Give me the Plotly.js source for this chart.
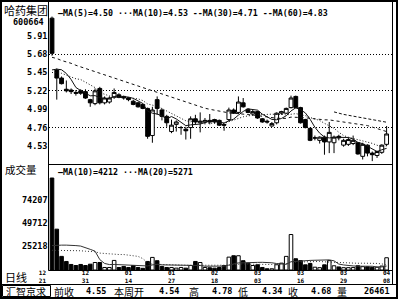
<!DOCTYPE html>
<html>
<head>
<meta charset="utf-8">
<script src="https://cdn.plot.ly/plotly-3.0.1.min.js"></script>
<style>
html,body{margin:0;padding:0;background:#fff;overflow:hidden;}
#chart{width:400px;height:300px;}
</style>
</head>
<body>
<div id="chart"></div>
<script>
// ---- data ----
const stockName = '哈药集团';
const stockCode = '600664';
const opens = [6.13,5.48,5.38,5.24,5.23,5.20,5.22,5.21,5.11,5.06,
5.25,5.07,5.08,5.14,5.17,5.15,5.13,5.09,5.07,5.05,
5.00,4.66,5.11,4.98,4.90,4.71,4.80,4.76,4.74,4.76,
4.87,4.82,4.83,4.85,4.86,4.85,4.80,4.86,4.98,4.95,
5.07,4.99,4.93,4.96,4.87,4.84,4.78,4.82,4.94,4.94,
5.01,5.15,5.01,4.86,4.75,4.63,4.60,4.64,4.58,4.57,
4.65,4.54,4.55,4.56,4.57,4.40,4.54,4.44,4.41,4.45,4.55];
const highs = [6.15,5.50,5.40,5.35,5.25,5.23,5.24,5.24,5.12,5.25,
5.27,5.15,5.15,5.25,5.19,5.16,5.14,5.11,5.08,5.06,
5.01,5.02,5.15,5.00,4.92,4.86,4.85,4.78,4.77,4.90,
4.92,4.95,4.88,4.93,4.87,4.86,4.81,5.01,5.00,5.15,
5.13,5.00,4.98,4.97,4.88,4.86,4.83,4.95,4.97,5.01,
5.16,5.16,5.02,4.87,4.76,4.66,4.65,4.66,4.83,4.66,
4.67,4.62,4.63,4.66,4.58,4.57,4.55,4.46,4.47,4.55,4.78];
const lows = [5.66,5.11,5.30,5.20,5.18,5.16,5.17,5.12,5.02,5.04,
5.05,5.05,5.06,5.12,5.13,5.11,5.09,5.04,5.01,4.99,
4.62,4.57,4.92,4.85,4.77,4.69,4.71,4.67,4.61,4.62,
4.80,4.70,4.80,4.80,4.81,4.78,4.72,4.84,4.93,4.93,
5.01,4.94,4.91,4.87,4.82,4.81,4.77,4.80,4.92,4.93,
5.00,5.00,4.81,4.75,4.59,4.60,4.56,4.42,4.44,4.44,
4.60,4.52,4.53,4.54,4.42,4.36,4.40,4.34,4.38,4.43,4.53];
const closes = [5.69,5.38,5.31,5.22,5.21,5.19,5.19,5.13,5.07,5.22,
5.07,5.13,5.13,5.20,5.14,5.13,5.11,5.05,5.02,5.00,
4.65,4.98,5.00,4.90,4.82,4.79,4.83,4.76,4.72,4.87,
4.83,4.84,4.85,4.83,4.83,4.79,4.79,4.98,4.94,5.08,
5.02,4.95,4.96,4.88,4.83,4.83,4.81,4.94,4.96,5.00,
5.13,5.01,4.82,4.76,4.60,4.63,4.64,4.58,4.70,4.64,
4.63,4.60,4.61,4.60,4.43,4.55,4.44,4.42,4.46,4.54,4.68];
const volumes = [98000,43500,14500,9100,5900,4800,5900,4800,6200,8000,
8000,2700,2700,10200,2700,3800,2700,4800,2700,1800,
9100,13400,9900,3800,2700,2700,2000,2700,2000,4800,
9100,8000,2700,2400,2000,2700,4800,13700,15200,15200,
9900,7300,4800,5600,2700,1300,1300,5600,7300,14500,
37800,12000,10000,5500,7000,3000,2500,5500,10000,4500,
3300,2500,2500,2600,4500,3559,3500,2800,2900,4200,13061];
const ma5 = [5.482,5.492,5.484,5.438,5.362,5.262,5.224,5.188,5.158,5.16,
5.136,5.124,5.124,5.15,5.134,5.146,5.142,5.126,5.09,5.062,
4.966,4.94,4.93,4.906,4.87,4.898,4.868,4.82,4.784,4.794,
4.802,4.804,4.822,4.844,4.836,4.828,4.818,4.844,4.866,4.916,
4.962,4.994,4.99,4.978,4.928,4.89,4.862,4.858,4.874,4.908,
4.968,5.008,4.984,4.944,4.864,4.764,4.69,4.642,4.63,4.638,
4.638,4.63,4.636,4.616,4.574,4.558,4.526,4.488,4.46,4.482,4.50];
const ma10 = [5.45,5.45,5.44,5.42,5.40,5.371,5.362,5.329,5.289,5.261,
5.199,5.174,5.156,5.154,5.147,5.141,5.133,5.125,5.12,5.098,
5.056,5.041,5.028,4.998,4.966,4.932,4.904,4.875,4.845,4.832,
4.85,4.836,4.821,4.814,4.815,4.815,4.811,4.833,4.855,4.876,
4.895,4.906,4.917,4.922,4.922,4.926,4.928,4.924,4.926,4.918,
4.929,4.935,4.921,4.909,4.886,4.866,4.849,4.813,4.787,4.751,
4.701,4.66,4.639,4.623,4.606,4.598,4.578,4.562,4.538,4.528,4.53];
const ma30 = [5.64,5.625,5.60,5.585,5.565,5.54,5.52,5.505,5.48,5.46,
5.445,5.42,5.40,5.385,5.36,5.345,5.32,5.30,5.285,5.26,
5.245,5.22,5.20,5.18,5.165,5.14,5.12,5.10,5.085,5.064,
5.035,5.017,5.002,4.989,4.976,4.963,4.949,4.944,4.94,4.935,
4.934,4.928,4.922,4.911,4.901,4.891,4.881,4.877,4.875,4.875,
4.891,4.892,4.886,4.882,4.874,4.869,4.863,4.857,4.856,4.848,
4.842,4.834,4.826,4.818,4.805,4.797,4.785,4.766,4.75,4.732,4.71];
const ma60 = [null,null,null,null,null,null,null,null,null,null,
null,null,null,null,null,null,null,null,null,null,
null,null,null,null,null,null,null,null,null,null,
null,null,null,null,null,null,null,null,null,null,
null,null,null,null,null,null,null,null,null,null,
null,null,null,null,null,null,null,null,null,4.956,
4.938,4.925,4.914,4.903,4.89,4.88,4.867,4.855,4.845,4.834,4.827];
const volMa10 = [26000,26500,26500,26500,26500,26000,25500,24000,22000,20070,
11070,6990,5810,5920,5600,5500,5180,5180,4830,4210,
4320,5390,6110,5470,5470,5360,5290,5080,5010,5310,
5310,4770,4050,3910,3840,3840,4120,5220,6540,7580,
7660,7590,7800,8120,8190,8050,7700,6890,6100,6030,
8820,9290,9810,9800,10230,10400,10520,10510,10780,9780,
6330,5380,4630,4340,4090,4146,4246,3976,3266,3236,4212];
const volMa20 = [21000,21000,21000,21000,20500,20500,20500,20000,20000,19500,
18000,17500,17000,17000,16500,16500,16000,15500,14500,12140,
7695,6190,5960,5695,5535,5430,5235,5130,4920,4760,
4815,5080,5080,4690,4655,4600,4705,5150,5775,6445,
6485,6180,5925,6015,6015,5945,5910,6055,6320,6805,
8240,8440,8805,8960,9210,9225,9110,8700,8440,7905,
7575,7335,7220,7070,7160,7273,7383,7243,7023,6508,5271];
const priceTicks = [5.91, 5.68, 5.45, 5.22, 4.99, 4.76, 4.53];
const priceGrid = [5.68, 5.22, 4.76];
const volTicks = [74207, 49712, 25218];
const dateIdx = [-2, 7, 16, 25, 34, 43, 52, 61, 70];
const dateLabels = ['12<br>21','12<br>31','01<br>14','01<br>27','02<br>18','03<br>03','03<br>16','03<br>29','04<br>08'];
const weekDays = 5;   // last five bars form the current week

// ---- layout helpers ----
const n = closes.length;
const idx = closes.map((_, i) => i);
const W = 400, H = 300;
const PX = v => v / W;
const PY = v => 1 - v / H;
const STEP = 4.78, X0 = 52;           // pixel pitch of candle slots
const toIdx = p => (p - X0) / STEP;
const MONO = 'DejaVu Sans Mono';
const CJK = 'Noto Sans CJK SC';
const BLACK = '#000';
const xRange = [toIdx(48.5), toIdx(392.5)];
const pRange = [4.2975, 6.3327];
const vRange = [-530, 112400];

const upColor = idx.map(i => closes[i] >= opens[i] ? '#fff' : BLACK);

const traces = [
  {type:'bar', x: idx, y: volumes, xaxis:'x2', yaxis:'y2',
   marker:{color: upColor, line:{color:BLACK, width:1}}, hoverinfo:'skip'},
  {type:'scatter', mode:'lines', x: idx, y: volMa10, xaxis:'x2', yaxis:'y2',
   line:{color:'#333', width:1}, hoverinfo:'skip'},
  {type:'scatter', mode:'lines', x: idx, y: volMa20, xaxis:'x2', yaxis:'y2',
   line:{color:'#333', width:1, dash:'1px,2px'}, hoverinfo:'skip'},
  {type:'candlestick', x: idx, open: opens, high: highs, low: lows, close: closes,
   xaxis:'x', yaxis:'y', whiskerwidth: 0, hoverinfo:'skip',
   increasing:{line:{color:BLACK, width:1}, fillcolor:'#fff'},
   decreasing:{line:{color:BLACK, width:1}, fillcolor:BLACK}},
  {type:'scatter', mode:'lines', x: idx, y: ma5, xaxis:'x', yaxis:'y',
   line:{color:'#111', width:1}, hoverinfo:'skip'},
  {type:'scatter', mode:'lines', x: idx, y: ma10, xaxis:'x', yaxis:'y',
   line:{color:'#111', width:1, dash:'1px,2px'}, hoverinfo:'skip'},
  {type:'scatter', mode:'lines', x: idx, y: ma30, xaxis:'x', yaxis:'y',
   line:{color:'#111', width:1, dash:'3px,3px'}, hoverinfo:'skip'},
  {type:'scatter', mode:'lines', x: idx, y: ma60, xaxis:'x', yaxis:'y3',
   line:{color:'#111', width:1, dash:'3px,2px'}, hoverinfo:'skip'},
  // invisible carrier so that the date axis is laid out
  {type:'scatter', mode:'markers', x: dateIdx, y: dateIdx.map(() => 0), xaxis:'x3', yaxis:'y4',
   marker:{size:1, opacity:0}, hoverinfo:'skip'}
];

const tickFont = {family: MONO, size: 8.5, color: BLACK, weight: 'bold'};
const hidden = {showgrid:false, zeroline:false, showline:false, ticks:'', showticklabels:false};

const layout = {
  width: W, height: H,
  margin: {l:0, r:0, t:0, b:0, pad:0},
  paper_bgcolor:'#fff', plot_bgcolor:'rgba(0,0,0,0)',
  showlegend:false, hovermode:false, dragmode:false,
  boxgap: 0.2, boxgroupgap: 0, bargap: 0.25,
  xaxis: Object.assign({}, hidden, {domain:[PX(48.5), PX(392.5)], range:xRange, anchor:'y',
    rangeslider:{visible:false}, fixedrange:true}),
  yaxis: {domain:[PY(164.5), PY(2)], range:pRange, anchor:'x',
    tickmode:'array', tickvals: priceTicks, ticktext: priceTicks.map(v => v.toFixed(2)),
    showgrid:false, zeroline:false, showline:false, ticks:'', tickfont: tickFont, fixedrange:true},
  yaxis3: {overlaying:'y', range:pRange, anchor:'x', side:'left',
    tickmode:'array', tickvals: priceGrid, showticklabels:false, ticks:'',
    showgrid:true, gridcolor:BLACK, gridwidth:1, griddash:'1px,2px', zeroline:false, showline:false},
  xaxis2: Object.assign({}, hidden, {domain:[PX(48.5), PX(392.5)], range:xRange, anchor:'y2', fixedrange:true}),
  yaxis2: {domain:[PY(270.5), PY(164.5)], range:vRange, anchor:'x2',
    tickmode:'array', tickvals: volTicks, ticktext: volTicks.map(String),
    showgrid:false, zeroline:false, showline:false, ticks:'', tickfont: tickFont, fixedrange:true},
  xaxis3: {domain:[PX(20), PX(392.5)], range:[toIdx(20), toIdx(392.5)], anchor:'y4',
    tickmode:'array', tickvals: dateIdx, ticktext: dateLabels,
    showgrid:false, zeroline:false, showline:false, ticks:'',
    tickfont:{family: MONO, size: 6, color: BLACK, weight:'bold'}, fixedrange:true},
  yaxis4: Object.assign({}, hidden, {domain:[PY(268), PY(266)], range:[-1, 1], anchor:'x3', fixedrange:true}),
  shapes: [],
  annotations: []
};

const ln = (x0, y0, x1, y1, w) => ({type:'line', xref:'paper', yref:'paper',
  x0: PX(x0), y0: PY(y0), x1: PX(x1), y1: PY(y1), line:{color:BLACK, width: w || 1}});
layout.shapes.push(
  {type:'rect', xref:'paper', yref:'paper', x0:PX(1), y0:PY(1), x1:PX(397), y1:PY(298), line:{color:BLACK, width:2}},
  ln(48.5, 1, 48.5, 270.5),
  ln(392.5, 1, 392.5, 284.5),
  ln(48.5, 164.5, 392.5, 164.5),
  ln(48.5, 270.5, 392.5, 270.5),
  ln(1, 284.5, 397, 284.5),
  {type:'rect', xref:'paper', yref:'paper', x0:PX(2.5), y0:PY(285.5), x1:PX(50.5), y1:PY(296.5), line:{color:BLACK, width:1}}
);

const ann = (text, x, y, xanchor, font) => ({text, x: PX(x), y: PY(y), xref:'paper', yref:'paper',
  xanchor, yanchor:'middle', showarrow:false, font, borderpad:0});
const monoB = s => ({family: MONO, size: s, color: BLACK, weight:'bold'});
const cjk = s => ({family: CJK, size: s, color: BLACK});

const last = a => a[a.length - 1];
const priceHeader = '—MA(5)=' + last(ma5).toFixed(2) + ' ···MA(10)=' + last(ma10).toFixed(2) +
  ' --MA(30)=' + last(ma30).toFixed(2) + ' --MA(60)=' + last(ma60).toFixed(2);
const volHeader = '—MA(10)=' + Math.round(last(volMa10)) + ' ···MA(20)=' + Math.round(last(volMa20));

const wk = n - weekDays;
const prevClose = closes[wk - 1];
const weekOpen = opens[wk];
const weekHigh = Math.max(...highs.slice(wk));
const weekLow = Math.min(...lows.slice(wk));
const weekClose = closes[n - 1];
const weekVol = volumes.slice(wk).reduce((a, b) => a + b, 0);

layout.annotations.push(
  ann(stockName, 3, 10, 'left', cjk(11)),
  ann(stockCode, 45, 22, 'right', monoB(8.5)),
  ann(priceHeader, 57, 13, 'left', monoB(8.3)),
  ann('成交量', 4, 169, 'left', cjk(10.5)),
  ann(volHeader, 57, 172, 'left', monoB(8.3)),
  ann('日线', 4, 277, 'left', cjk(11)),
  ann('汇智京求', 5, 291, 'left', cjk(10)),
  ann('前收', 53, 291, 'left', cjk(10)),
  ann(prevClose.toFixed(2), 107, 291, 'right', monoB(8.5)),
  ann('本周开', 113, 291, 'left', cjk(10)),
  ann(weekOpen.toFixed(2), 180, 291, 'right', monoB(8.5)),
  ann('高', 188, 291, 'left', cjk(10)),
  ann(weekHigh.toFixed(2), 233, 291, 'right', monoB(8.5)),
  ann('低', 237, 291, 'left', cjk(10)),
  ann(weekLow.toFixed(2), 283, 291, 'right', monoB(8.5)),
  ann('收', 287, 291, 'left', cjk(10)),
  ann(weekClose.toFixed(2), 332, 291, 'right', monoB(8.5)),
  ann('量', 336, 291, 'left', cjk(10)),
  ann(String(weekVol), 391, 291, 'right', monoB(8.5))
);

Plotly.newPlot('chart', traces, layout, {staticPlot:true, displayModeBar:false, responsive:false});
</script>
</body>
</html>
